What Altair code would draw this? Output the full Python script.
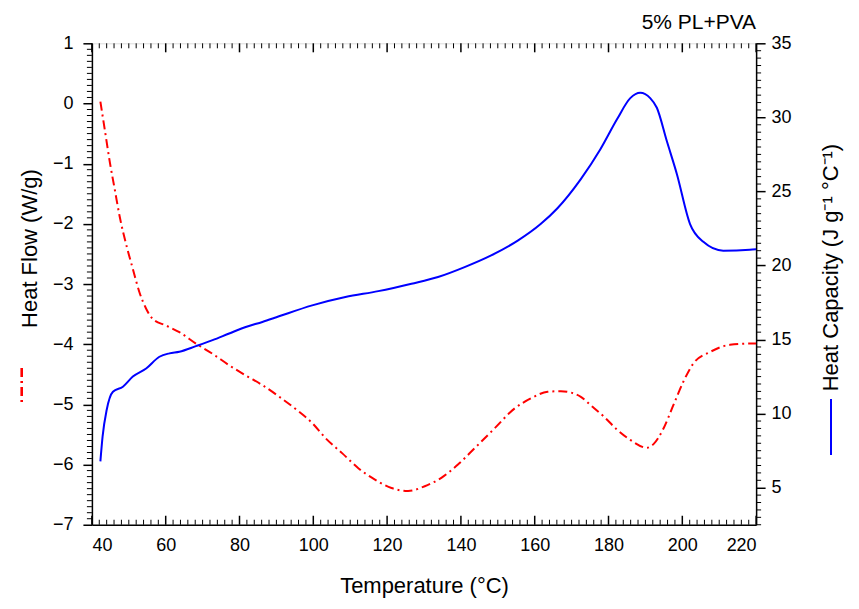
import altair as alt
import pandas as pd

# ---- data ----
hf_temp = [42.3, 43.5, 44.9, 46.2, 47.5, 49.4, 51.1, 52.9, 54.7, 56.5, 60.1, 63.7, 68.2, 72.7,
           77.2, 81.7, 86.2, 90.7, 96.1, 99.7, 103.3, 107.8, 112.2, 116.7, 121.2, 125.7, 130.2,
           134.7, 139.2, 143.7, 149.1, 154.5, 159.0, 163.5, 167.1, 172.4, 175.1, 178.7, 182.3,
           185.9, 190.4, 192.2, 194.9, 197.6, 200.3, 203.0, 207.5, 212.9, 218.3, 220.0]
hf_vals = [0.03, -0.44, -0.99, -1.43, -1.87, -2.37, -2.75, -3.14, -3.41, -3.58, -3.69, -3.80,
           -3.99, -4.16, -4.35, -4.52, -4.68, -4.87, -5.12, -5.31, -5.56, -5.81, -6.06, -6.25,
           -6.39, -6.44, -6.36, -6.22, -6.00, -5.73, -5.40, -5.07, -4.90, -4.79, -4.78, -4.87,
           -5.01, -5.20, -5.42, -5.59, -5.72, -5.66, -5.40, -5.01, -4.62, -4.32, -4.13, -4.01,
           -3.99, -3.99]

hc_temp = [42.3, 42.9, 44.0, 45.7, 48.4, 51.1, 54.7, 58.3, 61.0, 63.7, 68.2, 72.7, 77.2, 81.7,
           86.2, 90.7, 99.7, 108.7, 117.6, 126.6, 133.8, 141.0, 148.2, 155.4, 161.6, 166.1,
           172.4, 177.8, 182.3, 185.9, 188.6, 191.3, 193.1, 195.8, 198.5, 202.1, 205.7, 211.1,
           218.3, 220.0]
hc_vals = [6.78, 8.46, 10.25, 11.48, 11.82, 12.5, 13.05, 13.84, 14.07, 14.18, 14.56, 14.96,
           15.41, 15.85, 16.19, 16.57, 17.31, 17.87, 18.27, 18.77, 19.22, 19.89, 20.68, 21.68,
           22.8, 23.85, 25.8, 27.85, 29.87, 31.3, 31.66, 31.3, 30.65, 28.4, 26.2, 22.8, 21.6,
           21.0, 21.06, 21.1]

chart_title = ["5% PL+PVA"]

x_major = list(range(40, 221, 20))
x_minor = [v for v in range(40, 221, 2) if v % 20 != 0]
left_major = list(range(-7, 2))
left_minor = [round(-7 + i * 0.1, 1) for i in range(81) if i % 10 != 0]
right_major = list(range(5, 36, 5))
right_minor = [v / 2 for v in range(5, 71) if v % 10 != 0]

W, H = 665, 482
FONT = "Liberation Sans"
LBL = 18
TTL = 22

hf_df = pd.DataFrame({"T": hf_temp, "HF": hf_vals})
hc_df = pd.DataFrame({"T": hc_temp, "HC": hc_vals})

xscale = alt.Scale(domain=[40, 220], nice=False, zero=False)
lscale = alt.Scale(domain=[-7, 1], nice=False, zero=False)
rscale = alt.Scale(domain=[2.5, 35], nice=False, zero=False)

x_axis = alt.Axis(values=x_major, ticks=False, tickSize=0, labelPadding=12,
                  title="Temperature (°C)", titlePadding=21, grid=False,
                  domainColor="black", domainWidth=1.5,
                  labelFontSize=LBL, titleFontSize=TTL, labelColor="black",
                  titleColor="black", titleFontWeight="normal", labelFont=FONT, titleFont=FONT)

red = alt.Chart(hf_df).mark_line(color="#ff0000", strokeWidth=2, strokeDash=[9, 4, 2, 4],
                                 interpolate="monotone").encode(
    x=alt.X("T:Q", scale=xscale, axis=x_axis),
    y=alt.Y("HF:Q", scale=lscale, axis=alt.Axis(
        orient="left", values=left_major, tickSize=9, tickColor="black", tickWidth=1.5,
        labelPadding=10, grid=False, domainColor="black", domainWidth=1.5,
        labelFontSize=LBL, labelColor="black", labelFont=FONT,
        title="Heat Flow (W/g)", titleFont=FONT, titleFontSize=TTL, titleFontWeight="normal",
        titleColor="black", titleAngle=270, titleX=-62, titleY=205,
        titleAlign="center", titleBaseline="middle")),
)

# minor / inward ticks drawn through the scales
xmaj_df = pd.DataFrame({"v": x_major})
xmin_df = pd.DataFrame({"v": x_minor})
tick_x_bot_maj = alt.Chart(xmaj_df).mark_rule(color="black", strokeWidth=1.5).encode(
    x=alt.X("v:Q", scale=xscale, axis=None), y=alt.value(H), y2=alt.value(H - 9))
tick_x_bot_min = alt.Chart(xmin_df).mark_rule(color="black", strokeWidth=1).encode(
    x=alt.X("v:Q", scale=xscale, axis=None), y=alt.value(H), y2=alt.value(H - 5))
tick_x_top_maj = alt.Chart(xmaj_df).mark_rule(color="black", strokeWidth=1.5).encode(
    x=alt.X("v:Q", scale=xscale, axis=None), y=alt.value(0), y2=alt.value(9))
tick_x_top_min = alt.Chart(xmin_df).mark_rule(color="black", strokeWidth=1).encode(
    x=alt.X("v:Q", scale=xscale, axis=None), y=alt.value(0), y2=alt.value(5))

lmin_df = pd.DataFrame({"v": left_minor})
tick_l_min = alt.Chart(lmin_df).mark_rule(color="black", strokeWidth=1).encode(
    y=alt.Y("v:Q", scale=lscale, axis=None), x=alt.value(-5), x2=alt.value(0))

red_key = alt.Chart(hf_df).mark_rule(color="#ff0000", strokeWidth=2, strokeDash=[9, 4, 2, 4]).encode(
    x=alt.value(-70), y=alt.value(325), y2=alt.value(363))

title_df = pd.DataFrame({"t": chart_title})
title_mark = alt.Chart(title_df).mark_text(
    align="right", baseline="alphabetic", fontSize=TTL - 1, font=FONT, color="black").encode(
    text="t:N", x=alt.value(W), y=alt.value(-14))

left_group = alt.layer(red, tick_l_min, tick_x_bot_maj, tick_x_bot_min,
                       tick_x_top_maj, tick_x_top_min, red_key, title_mark
                       ).resolve_axis(x="independent", y="independent")

blue = alt.Chart(hc_df).mark_line(color="#0000ff", strokeWidth=2, interpolate="monotone").encode(
    x=alt.X("T:Q", scale=xscale, axis=None),
    y=alt.Y("HC:Q", scale=rscale, axis=alt.Axis(
        orient="right", values=right_major, tickSize=9, tickColor="black", tickWidth=1.5,
        labelPadding=6, grid=False, domainColor="black", domainWidth=1.5,
        labelFontSize=LBL, labelColor="black", labelFont=FONT,
        title="Heat Capacity (J g⁻¹ °C⁻¹)", titleFont=FONT, titleFontSize=TTL,
        titleFontWeight="normal", titleColor="black", titleAngle=270, titleX=74, titleY=224,
        titleAlign="center", titleBaseline="middle")),
)

rmin_df = pd.DataFrame({"v": right_minor})
tick_r_min = alt.Chart(rmin_df).mark_rule(color="black", strokeWidth=1).encode(
    y=alt.Y("v:Q", scale=rscale, axis=None), x=alt.value(W), x2=alt.value(W + 5))

blue_key = alt.Chart(hc_df).mark_rule(color="#0000ff", strokeWidth=2).encode(
    x=alt.value(740), y=alt.value(357), y2=alt.value(412))

right_group = alt.layer(blue, tick_r_min, blue_key).resolve_axis(x="independent", y="independent")

chart = alt.layer(left_group, right_group).resolve_scale(y="independent").resolve_axis(
    x="independent", y="independent").properties(
    width=W, height=H,
    autosize=alt.AutoSizeParams(type="none"),
    padding={"left": 84, "top": 35, "right": 95, "bottom": 76},
).configure_view(stroke="black", strokeWidth=1.5).configure(background="white")

chart.save("out.html", embed_options={"renderer": "svg", "actions": False})
